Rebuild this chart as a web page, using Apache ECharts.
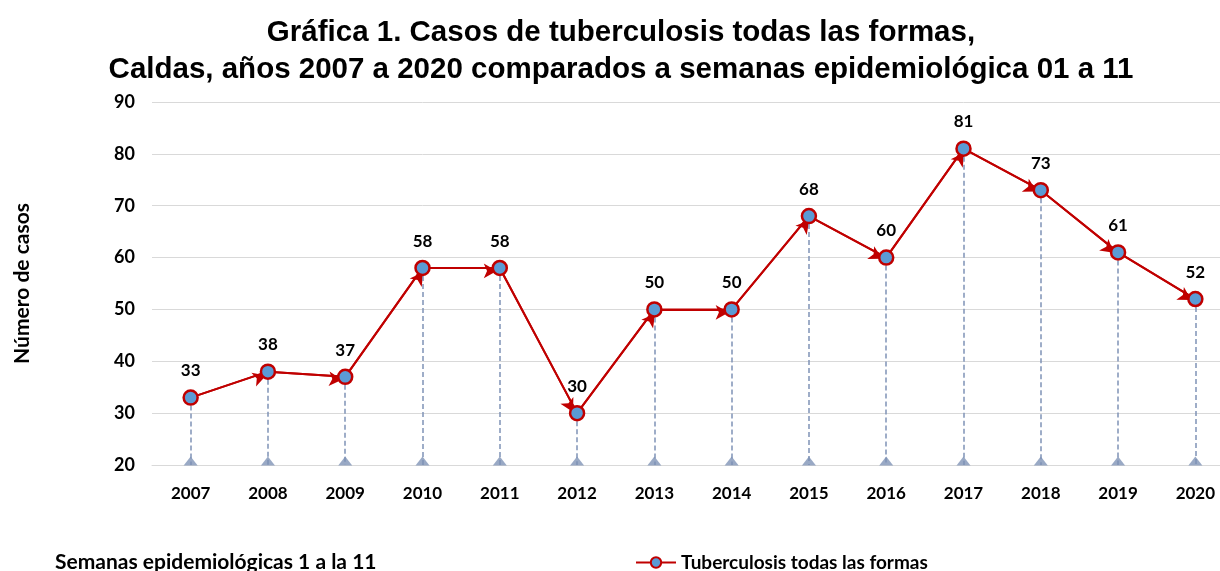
<!DOCTYPE html>
<html>
<head>
<meta charset="utf-8">
<script src="https://cdn.jsdelivr.net/npm/echarts@6/dist/echarts.min.js"></script>
<style>
  html, body { margin: 0; padding: 0; background: #fff; overflow: hidden; }
  #chart { width: 1234px; height: 571px; }
</style>
</head>
<body>
<div id="chart"></div>
<script>
// datos
var years = ['2007', '2008', '2009', '2010', '2011', '2012', '2013', '2014', '2015', '2016', '2017', '2018', '2019', '2020'];
var casos = [33, 38, 37, 58, 58, 30, 50, 50, 68, 60, 81, 73, 61, 52];
var yTicks = [20, 30, 40, 50, 60, 70, 80, 90];

var RED = '#c00000';
var DROP = '#7f93b7';
var FONT = 'Lato, "Open Sans", sans-serif';

// segmentos con flecha entre puntos consecutivos
var arrows = [];
for (var i = 1; i < casos.length; i++) {
	arrows.push([{ coord: [i - 1, casos[i - 1]] }, { coord: [i, casos[i]] }]);
}

// lineas punteadas hasta la base
var drops = casos.map(function(v, i) {
	return [{ coord: [i, v] }, { coord: [i, yTicks[0]] }];
});

var myChart = echarts.init(document.getElementById('chart'));
myChart.setOption({
	animation: false,
	title: {
		text: 'Gráfica 1. Casos de tuberculosis todas las formas,\nCaldas, años 2007 a 2020 comparados a semanas epidemiológica 01 a 11',
		left: 616,
		textAlign: 'center',
		top: 9,
		textStyle: {
			fontFamily: '"Liberation Sans", Arial, sans-serif',
			fontWeight: 'bold',
			fontSize: 29.5,
			lineHeight: 37,
			color: '#000'
		}
	},
	legend: {
		data: ['Tuberculosis todas las formas'],
		left: 630,
		top: 548,
		itemWidth: 40,
		itemHeight: 13,
		itemGap: 4,
		textStyle: { fontFamily: FONT, fontWeight: 'bold', fontSize: 19, color: '#000' }
	},
	graphic: [{
		type: 'text',
		left: 55,
		top: 552,
		style: { text: 'Semanas epidemiológicas 1 a la 11', fontFamily: FONT, fontWeight: 'bold', fontSize: 21, fill: '#000' }
	}],
	grid: { left: 152, right: 0, top: 102, bottom: 106 },
	xAxis: {
		type: 'category',
		data: years,
		boundaryGap: true,
		axisLine: { show: true, lineStyle: { color: '#d9d9d9', width: 1 } },
		axisTick: { show: false },
		axisLabel: { margin: 20, fontFamily: FONT, fontWeight: 'bold', fontSize: 17, color: '#000' }
	},
	yAxis: {
		type: 'value',
		min: yTicks[0],
		max: yTicks[yTicks.length - 1],
		interval: 10,
		name: 'Número de casos',
		nameLocation: 'middle',
		nameGap: 119,
		nameTextStyle: { fontFamily: FONT, fontWeight: 'bold', fontSize: 21, color: '#000' },
		axisLine: { show: false },
		axisTick: { show: false },
		axisLabel: { margin: 17, fontFamily: FONT, fontWeight: 'bold', fontSize: 18, color: '#000' },
		splitLine: { lineStyle: { color: '#d9d9d9', width: 1 } }
	},
	series: [{
		name: 'drops',
		type: 'scatter',
		data: casos.map(function() { return yTicks[0]; }),
		symbol: 'triangle',
		symbolSize: [14, 9],
		symbolOffset: [0, -4],
		itemStyle: { color: DROP },
		clip: false,
		z: 1,
		silent: true,
		markLine: {
			silent: true,
			symbol: ['none', 'none'],
			label: { show: false },
			lineStyle: { color: DROP, type: [5, 3], width: 1.5 },
			data: drops
		}
	}, {
		name: 'Tuberculosis todas las formas',
		type: 'line',
		data: casos,
		symbol: 'circle',
		symbolSize: 14,
		itemStyle: { color: '#5b9bd5', borderColor: RED, borderWidth: 2.5 },
		lineStyle: { color: RED, width: 2 },
		z: 5,
		label: {
			show: true,
			position: 'top',
			distance: 10,
			fontFamily: FONT,
			fontWeight: 'bold',
			fontSize: 17,
			color: '#000'
		},
		markLine: {
			silent: true,
			symbol: ['none', 'arrow'],
			symbolSize: [11, 13],
			symbolOffset: [0, 3],
			label: { show: false },
			lineStyle: { color: RED, type: 'solid', width: 2 },
			data: arrows,
			z: 4
		}
	}]
});
</script>
</body>
</html>
